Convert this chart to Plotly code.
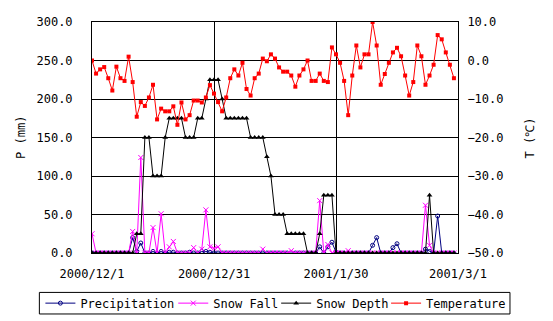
import pandas as pd
import plotly.graph_objects as go

# ---- data (daily, 2000/12/1 .. 2001/2/28) ----
start_date = "2000-12-01"
n_days = 90
dates = pd.date_range(start_date, periods=n_days, freq="D")

temperature = [
    0.0, -3.4, -2.3, -1.7, -4.6, -7.8, -1.6, -4.6, -5.3, 1.0,
    -5.6, -14.6, -10.8, -11.8, -9.6, -6.3, -15.3, -12.5, -13.2, -13.2,
    -11.9, -16.7, -10.9, -15.3, -14.2, -10.4, -10.4, -10.9, -9.6, -6.4,
    -8.6, -10.8, -13.2, -9.6, -4.6, -2.3, -3.9, -0.6, -7.4, -9.1,
    -4.6, -3.4, 0.5, -0.2, 1.6, 0.5, -1.8, -2.9, -2.9, -3.9,
    -6.8, -3.9, -2.3, 0.0, -5.3, -5.3, -3.4, -5.3, -5.6, 3.4,
    1.6, -0.6, -5.3, -14.2, -3.9, 3.9, -1.8, 1.6, 1.6, 10.0,
    3.9, -6.3, -3.5, -0.6, 2.1, 3.3, 1.1, -3.9, -9.1, -5.6,
    3.9, 1.1, -6.3, -3.9, -1.1, 6.6, 5.5, 2.1, -1.1, -4.6,
]

snow_depth = [
    0, 0, 0, 0, 0, 0, 0, 0, 0, 0,
    0, 25, 25, 150, 150, 100, 100, 100, 150, 175,
    175, 175, 175, 150, 150, 150, 175, 175, 200, 225,
    225, 225, 200, 175, 175, 175, 175, 175, 175, 150,
    150, 150, 150, 125, 100, 50, 50, 50, 25, 25,
    25, 25, 25, 0, 0, 0, 25, 75, 75, 75,
    0, 0, 0, 0, 0, 0, 0, 0, 0, 0,
    0, 0, 0, 0, 0, 0, 0, 0, 0, 0,
    0, 0, 0, 75, 0, 0, 0, 0, 0, 0,
]

snow_fall = [
    25, 0, 0, 0, 0, 0, 0, 0, 0, 0,
    28, 0, 124, 0, 0, 33, 0, 51, 0, 8,
    15, 0, 0, 0, 0, 7, 0, 5, 56, 8,
    6, 8, 0, 0, 0, 0, 0, 0, 0, 0,
    0, 0, 5, 0, 0, 0, 0, 0, 0, 3,
    0, 0, 0, 0, 0, 0, 68, 0, 11, 0,
    0, 0, 0, 3, 0, 0, 0, 0, 0, 0,
    0, 0, 0, 0, 0, 0, 0, 0, 0, 0,
    0, 0, 62, 10, 0, 0, 0, 0, 0, 0,
]

precipitation = [
    0, 0, 0, 0, 0, 0, 0, 0, 0, 0,
    20, 2, 13, 0, 0, 2, 0, 2, 0, 1,
    1, 0, 0, 0, 1, 0, 0, 2, 2, 1,
    0, 0, 0, 0, 0, 0, 0, 0, 0, 0,
    0, 0, 0, 0, 0, 0, 0, 0, 0, 0,
    0, 0, 0, 0, 0, 0, 8, 0, 8, 14,
    1, 0, 0, 0, 0, 0, 0, 0, 0, 10,
    20, 0, 0, 0, 7, 12, 0, 0, 0, 0,
    0, 0, 5, 2, 0, 48, 0, 0, 0, 0,
]

x_tick_dates = ["2000-12-01", "2000-12-31", "2001-01-30", "2001-03-01"]
x_tick_labels = ["2000/12/1", "2000/12/31", "2001/1/30", "2001/3/1"]

FONT = "DejaVu Sans Mono"

fig = go.Figure()

fig.add_trace(go.Scatter(
    x=dates, y=precipitation, name="Precipitation", mode="lines+markers",
    line=dict(color="#000080", width=1),
    marker=dict(symbol="circle-open", size=4, color="#000080", line=dict(width=1, color="#000080")),
    yaxis="y", legend="legend",
))
fig.add_trace(go.Scatter(
    x=dates, y=snow_fall, name="Snow Fall", mode="lines+markers",
    line=dict(color="#FF00FF", width=1),
    marker=dict(symbol="x-thin", size=5, color="#FF00FF", line=dict(width=1, color="#FF00FF")),
    yaxis="y", legend="legend2",
))
fig.add_trace(go.Scatter(
    x=dates, y=snow_depth, name="Snow Depth", mode="lines+markers",
    line=dict(color="#000000", width=1),
    marker=dict(symbol="triangle-up", size=5, color="#000000"),
    yaxis="y", legend="legend3",
))
fig.add_trace(go.Scatter(
    x=dates, y=temperature, name="Temperature", mode="lines+markers",
    line=dict(color="#FF0000", width=1),
    marker=dict(symbol="square", size=4, color="#FF0000"),
    yaxis="y2", legend="legend4",
))

legend_common = dict(
    orientation="h", xref="paper", yref="paper",
    xanchor="left", y=-0.217, yanchor="middle",
    borderwidth=0, bgcolor="rgba(0,0,0,0)",
    font=dict(family=FONT, size=12, color="black"),
    itemwidth=30,
)

fig.update_layout(
    width=553, height=321,
    margin=dict(l=92, r=95, t=22, b=68, autoexpand=False),
    paper_bgcolor="white", plot_bgcolor="white",
    font=dict(family=FONT, size=12, color="black"),
    showlegend=True,
    legend=dict(x=-0.1410, **legend_common),
    legend2=dict(x=0.2220, **legend_common),
    legend3=dict(x=0.5032, **legend_common),
    legend4=dict(x=0.8035, **legend_common),
    xaxis=dict(
        type="date",
        range=[x_tick_dates[0], x_tick_dates[-1]],
        tickmode="array", tickvals=x_tick_dates, ticktext=x_tick_labels,
        showgrid=True, gridcolor="black", gridwidth=1,
        showline=True, linecolor="black", linewidth=1, mirror=True,
        ticks="outside", ticklen=10, tickcolor="rgba(0,0,0,0)",
        zeroline=False, automargin=False,
    ),
    yaxis=dict(
        range=[0, 300], dtick=50, tick0=0, tickformat=".1f",
        showgrid=True, gridcolor="black", gridwidth=1,
        showline=True, linecolor="black", linewidth=1, mirror=True,
        ticks="outside", ticklen=16, tickcolor="rgba(0,0,0,0)",
        zeroline=False, automargin=False,
    ),
    yaxis2=dict(
        overlaying="y", side="right",
        range=[-50, 10], dtick=10, tick0=-50, tickformat=".1f",
        showgrid=False, zeroline=False,
        showline=False, automargin=False,
        ticks="outside", ticklen=6, tickcolor="rgba(0,0,0,0)",
    ),
    annotations=[
        dict(text="P (mm)", xref="paper", yref="paper", x=-0.1956, y=0.5,
             xanchor="center", yanchor="middle", textangle=-90, showarrow=False,
             font=dict(family=FONT, size=12, color="black")),
        dict(text="T (℃)", xref="paper", yref="paper", x=1.1966, y=0.5,
             xanchor="center", yanchor="middle", textangle=-90, showarrow=False,
             font=dict(family=FONT, size=12, color="black")),
    ],
    shapes=[
        dict(type="rect", xref="paper", yref="paper",
             x0=-0.1438, x1=1.1420, y0=-0.1706, y1=-0.264,
             line=dict(color="black", width=1), fillcolor="rgba(0,0,0,0)",
             layer="above"),
    ],
)

fig.write_html("out.html", config={"displayModeBar": False},
               post_script="document.body.style.margin='0';")
